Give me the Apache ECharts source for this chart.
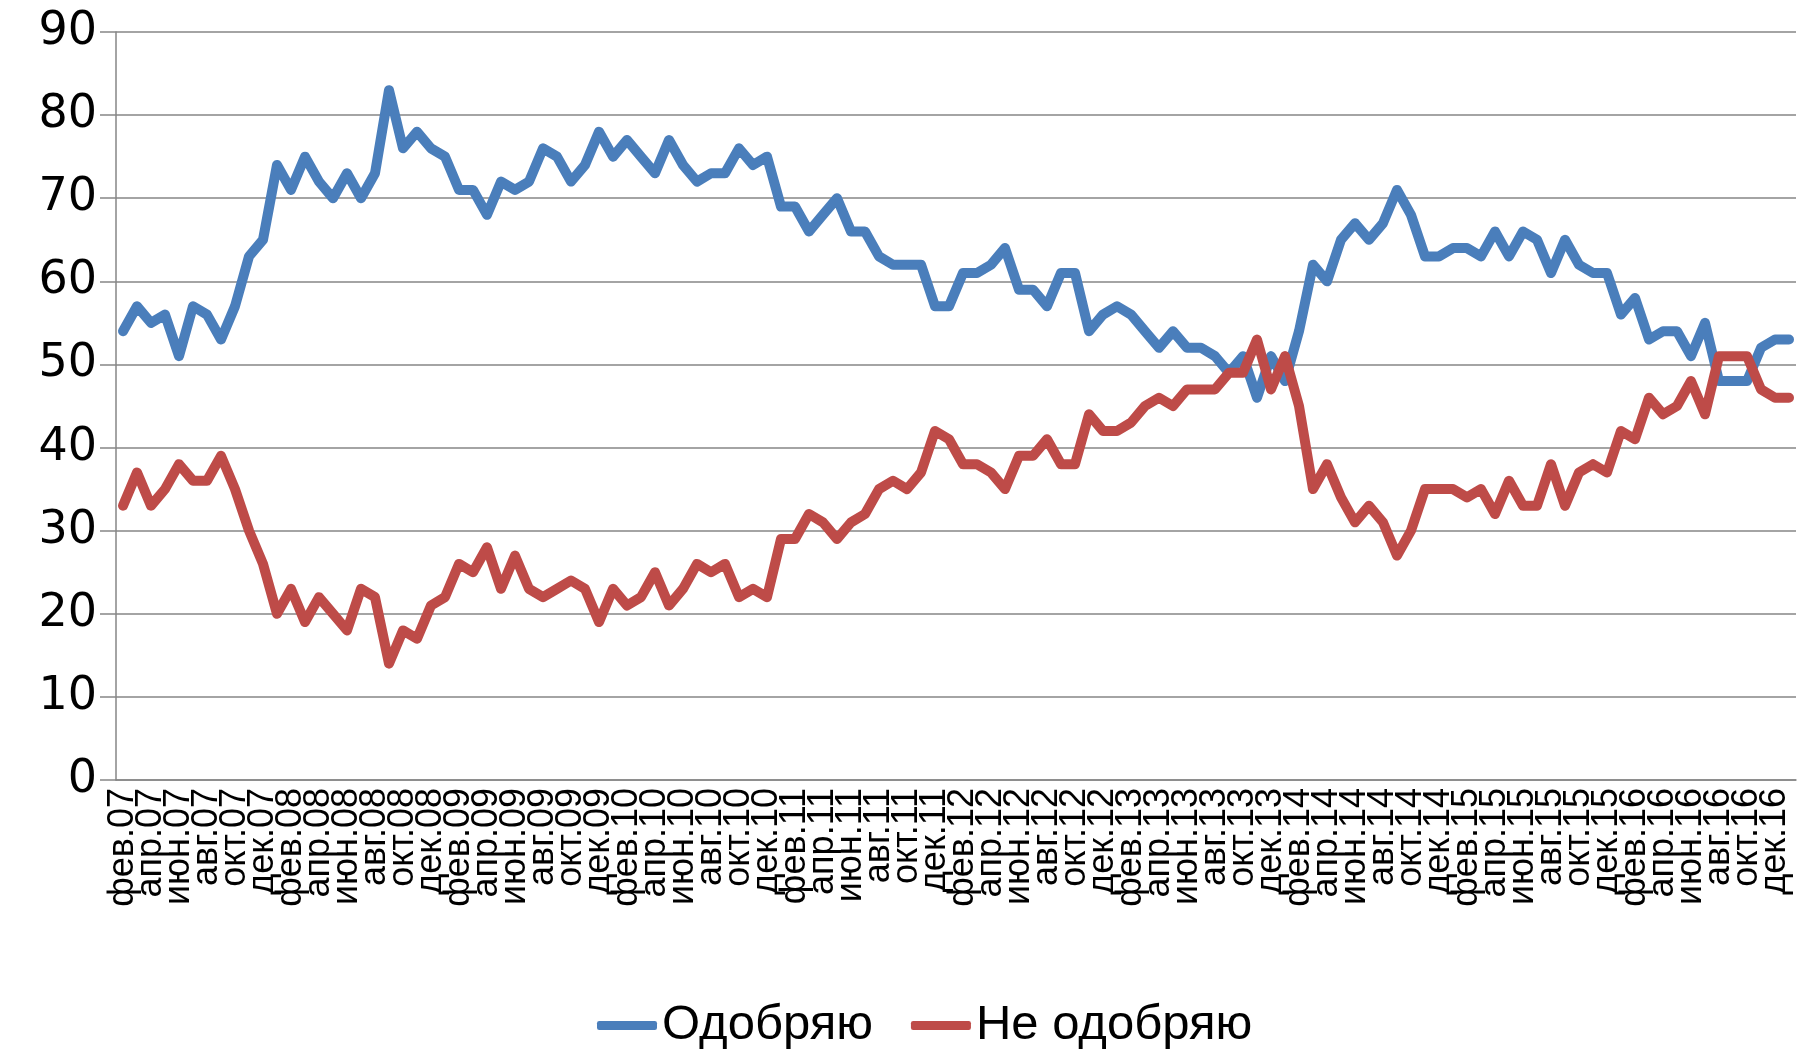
<!DOCTYPE html>
<html>
<head>
<meta charset="utf-8">
<script src="https://cdn.jsdelivr.net/npm/echarts@6/dist/echarts.min.js"></script>
<style>
  html, body { margin: 0; padding: 0; background: #fff; }
  #chart { width: 1797px; height: 1049px; }
</style>
</head>
<body>
<div id="chart"></div>
<script>
// monthly, фев.07 .. янв.17
const monthNames = ['янв.', 'фев.', 'мар.', 'апр.', 'май.', 'июн.', 'июл.', 'авг.', 'сен.', 'окт.', 'ноя.', 'дек.'];
const years = ['07', '08', '09', '10', '11', '12', '13', '14', '15', '16', '17'];

const approve = [
  54, 57, 55, 56, 51, 57, 56, 53, 57, 63,
  65, 74, 71, 75, 72, 70, 73, 70, 73, 83,
  76, 78, 76, 75, 71, 71, 68, 72, 71, 72,
  76, 75, 72, 74, 78, 75, 77, 75, 73, 77,
  74, 72, 73, 73, 76, 74, 75, 69, 69, 66,
  68, 70, 66, 66, 63, 62, 62, 62, 57, 57,
  61, 61, 62, 64, 59, 59, 57, 61, 61, 54,
  56, 57, 56, 54, 52, 54, 52, 52, 51, 49,
  51, 46, 51, 48, 54, 62, 60, 65, 67, 65,
  67, 71, 68, 63, 63, 64, 64, 63, 66, 63,
  66, 65, 61, 65, 62, 61, 61, 56, 58, 53,
  54, 54, 51, 55, 48, 48, 48, 52, 53, 53
];
const disapprove = [
  33, 37, 33, 35, 38, 36, 36, 39, 35, 30,
  26, 20, 23, 19, 22, 20, 18, 23, 22, 14,
  18, 17, 21, 22, 26, 25, 28, 23, 27, 23,
  22, 23, 24, 23, 19, 23, 21, 22, 25, 21,
  23, 26, 25, 26, 22, 23, 22, 29, 29, 32,
  31, 29, 31, 32, 35, 36, 35, 37, 42, 41,
  38, 38, 37, 35, 39, 39, 41, 38, 38, 44,
  42, 42, 43, 45, 46, 45, 47, 47, 47, 49,
  49, 53, 47, 51, 45, 35, 38, 34, 31, 33,
  31, 27, 30, 35, 35, 35, 34, 35, 32, 36,
  33, 33, 38, 33, 37, 38, 37, 42, 41, 46,
  44, 45, 48, 44, 51, 51, 51, 47, 46, 46
];

const categories = [];
for (let i = 0; i < approve.length; i++) {
  const m = (1 + i) % 12;
  const y = Math.floor((1 + i) / 12);
  categories.push(monthNames[m] + years[y]);
}

const gridColor = '#868686';
const everyOther = (idx) => idx % 2 === 0;

const myChart = echarts.init(document.getElementById('chart'));
const option = {
  animation: false,
  backgroundColor: '#ffffff',
  grid: { left: 116, right: 1, top: 32, bottom: 269 },
  legend: {
    top: 996,
    left: 592,
    icon: 'roundRect',
    itemWidth: 60,
    itemHeight: 9,
    itemGap: 38,
    textStyle: { fontFamily: 'Liberation Sans, sans-serif', fontSize: 49, color: '#000' },
    data: ['Одобряю', 'Не одобряю']
  },
  xAxis: {
    type: 'category',
    data: categories,
    boundaryGap: true,
    axisLine: { lineStyle: { color: gridColor, width: 1.5 } },
    axisTick: { interval: everyOther, length: 10, lineStyle: { color: gridColor, width: 1.5 } },
    axisLabel: {
      // every second month; empty labels keep фев.07 and дек.16 from being dropped
      interval: 0,
      showMinLabel: true,
      formatter: (value, idx) => (idx % 2 === 0 ? value : ''),
      rotate: 90,
      margin: 8,
      color: '#000',
      fontFamily: 'Liberation Sans, sans-serif',
      fontSize: 36,
      lineHeight: 22
    }
  },
  yAxis: {
    type: 'value',
    min: 0,
    max: 90,
    interval: 10,
    axisLine: { show: true, lineStyle: { color: gridColor, width: 1.5 } },
    axisTick: { show: true, length: 16, lineStyle: { color: gridColor, width: 1.5 } },
    axisLabel: { margin: 19, color: '#000', fontFamily: 'DejaVu Sans', fontSize: 46 },
    splitLine: { lineStyle: { color: gridColor, width: 1.5 } }
  },
  series: [
    {
      name: 'Одобряю',
      type: 'line',
      data: approve,
      symbol: 'none',
      color: '#4A7EBB',
      lineStyle: { width: 10, cap: 'round', join: 'round' }
    },
    {
      name: 'Не одобряю',
      type: 'line',
      data: disapprove,
      symbol: 'none',
      color: '#BE4B48',
      lineStyle: { width: 10, cap: 'round', join: 'round' }
    }
  ]
};
myChart.setOption(option);
</script>
</body>
</html>
